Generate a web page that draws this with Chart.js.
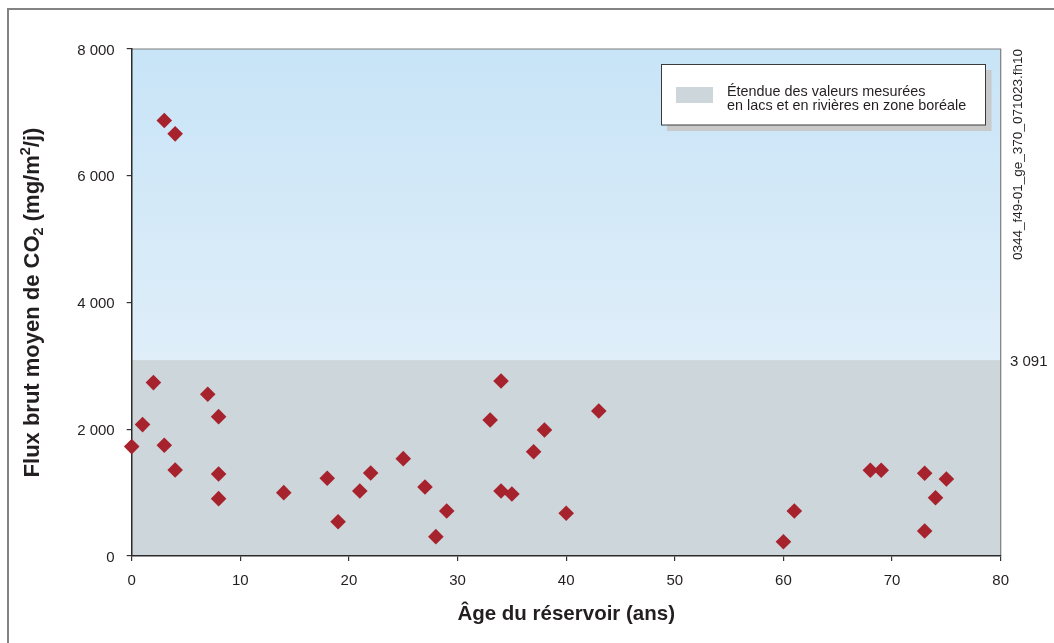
<!DOCTYPE html>
<html><head><meta charset="utf-8">
<script src="https://cdn.jsdelivr.net/npm/chart.js@4/dist/chart.umd.min.js"></script>
<style>html,body{margin:0;padding:0;background:#fff;overflow:hidden}canvas{display:block}</style>
</head><body>
<canvas id="c" width="1054" height="643"></canvas>
<script>
// ---- data ----
const ages = [0,1,2,3,4,3,4,7,8,8,8,14,18,19,21,22,25,27,28,29,33,34,34,35,37,38,40,43,60,61,68,69,73,73,74,75];
const flux = [1726,2073,2736,6872,6661,1747,1358,2552,2199,1295,905,1000,1226,541,1026,1310,1536,1089,305,710,2147,2762,1026,979,1646,1989,674,2289,226,710,1353,1353,1305,395,920,1215];
const xTicks = [0,10,20,30,40,50,60,70,80];
const yTicks = [0,2000,4000,6000,8000];
const borealMax = 3091;
const borealLabel = "3 091";
const legendLines = ["Étendue des valeurs mesurées","en lacs et en rivières en zone boréale"];
const xTitle = "Âge du réservoir (ans)";
const yTitleParts = [["Flux brut moyen de CO","n"],["2","sub"],[" (mg/m","n"],["2","sup"],["/j)","n"]];
const fileCode = "0344_f49-01_ge_370_071023.fh10";

const FONT = '"Liberation Sans", Arial, Helvetica, sans-serif';
const TXT = '#231f20';
const fmt = v => String(v).replace(/\B(?=(\d{3})+(?!\d))/g, ' ');

const deco = {
  id: 'deco',
  beforeDraw(chart) {
    const {ctx, chartArea: a, scales: {y}} = chart;
    ctx.save();
    ctx.fillStyle = '#838383';
    ctx.fillRect(7, 8, 1054 - 7, 2);
    ctx.fillRect(7, 8, 2, 643 - 8);
    const yb = y.getPixelForValue(borealMax);
    const g = ctx.createLinearGradient(0, a.top, 0, yb);
    g.addColorStop(0, '#c8e4f7');
    g.addColorStop(1, '#dfeef9');
    ctx.fillStyle = g;
    ctx.fillRect(a.left, a.top, a.right - a.left, yb - a.top);
    ctx.fillStyle = '#cdd6db';
    ctx.fillRect(a.left, yb, a.right - a.left, a.bottom - yb);
    ctx.strokeStyle = '#7d7d7d';
    ctx.lineWidth = 1.2;
    ctx.beginPath();
    ctx.moveTo(a.left, a.top); ctx.lineTo(a.right, a.top); ctx.lineTo(a.right, a.bottom);
    ctx.stroke();
    ctx.restore();
  },
  afterDraw(chart) {
    const {ctx, chartArea: a, scales: {y}} = chart;
    const yb = y.getPixelForValue(borealMax);
    ctx.save();
    ctx.fillStyle = TXT;
    // x title
    ctx.font = 'bold 20.5px ' + FONT;
    ctx.textAlign = 'center';
    ctx.textBaseline = 'alphabetic';
    ctx.fillText(xTitle, (a.left + a.right) / 2, 620);
    // y title (rotated, with sub/superscript), centred on plot
    ctx.save();
    ctx.textAlign = 'left';
    let total = 0;
    const sized = yTitleParts.map(([t, k]) => {
      const size = k === 'n' ? 22 : 14.5;
      ctx.font = 'bold ' + size + 'px ' + FONT;
      const w = ctx.measureText(t).width;
      total += w;
      return {t, k, size, w};
    });
    ctx.translate(38.8, (a.top + a.bottom) / 2 + total / 2);
    ctx.rotate(-Math.PI / 2);
    let px = 0;
    for (const p of sized) {
      const dy = p.k === 'sub' ? 4 : (p.k === 'sup' ? -8.5 : 0);
      ctx.font = 'bold ' + p.size + 'px ' + FONT;
      ctx.fillText(p.t, px, dy);
      px += p.w;
    }
    ctx.restore();
    // 3 091 label
    ctx.font = '15px ' + FONT;
    ctx.textAlign = 'left';
    ctx.textBaseline = 'middle';
    ctx.fillText(borealLabel, 1010, yb + 1.5);
    // file code vertical
    ctx.save();
    ctx.translate(1021.5, 260);
    ctx.rotate(-Math.PI / 2);
    ctx.font = '13.5px ' + FONT;
    ctx.textBaseline = 'alphabetic';
    ctx.textAlign = 'left';
    ctx.fillText(fileCode, 0, 0);
    ctx.restore();
    // legend box
    ctx.fillStyle = '#c9c9c9';
    ctx.fillRect(667, 70, 324.5, 61);
    ctx.fillStyle = '#ffffff';
    ctx.fillRect(661.5, 64.5, 324, 60.5);
    ctx.strokeStyle = '#3a3a3a';
    ctx.lineWidth = 1;
    ctx.strokeRect(661.5, 64.5, 324, 60.5);
    ctx.fillStyle = '#cdd6db';
    ctx.fillRect(676, 87, 37, 16);
    ctx.fillStyle = TXT;
    ctx.font = '14.4px ' + FONT;
    ctx.textBaseline = 'alphabetic';
    ctx.fillText(legendLines[0], 727, 96);
    ctx.fillText(legendLines[1], 727, 110.3);
    ctx.restore();
  }
};

new Chart(document.getElementById('c'), {
  type: 'scatter',
  data: {
    datasets: [{
      data: ages.map((a, i) => ({x: a, y: flux[i]})),
      pointStyle: 'rectRot',
      pointRadius: 7.8,
      pointHoverRadius: 7.8,
      backgroundColor: '#a6232e',
      borderColor: '#a6232e',
      borderWidth: 0,
      clip: false
    }]
  },
  options: {
    responsive: false,
    animation: false,
    devicePixelRatio: 1,
    events: [],
    layout: {padding: {left: 0, top: 49, right: 53.3, bottom: 0}},
    plugins: {legend: {display: false}, tooltip: {enabled: false}},
    scales: {
      x: {
        type: 'linear', min: 0, max: 80,
        afterBuildTicks: s => { s.ticks = xTicks.map(v => ({value: v})); },
        afterFit: s => { s.height = 87; },
        grid: {drawOnChartArea: false, drawTicks: true, tickLength: 5, color: '#333', lineWidth: 1.2},
        border: {display: true, color: '#2a2a2a', width: 1.5},
        ticks: {color: TXT, font: {family: FONT, size: 15}, padding: 10.5, maxRotation: 0, callback: v => fmt(v)}
      },
      y: {
        type: 'linear', min: 0, max: 8000,
        afterBuildTicks: s => { s.ticks = yTicks.map(v => ({value: v})); },
        afterFit: s => { s.width = 131.7; },
        grid: {drawOnChartArea: false, drawTicks: true, tickLength: 5, color: '#333', lineWidth: 1.2},
        border: {display: true, color: '#2a2a2a', width: 1.5},
        ticks: {color: TXT, font: {family: FONT, size: 15}, padding: 12, labelOffset: 1.5, callback: v => fmt(v)}
      }
    }
  },
  plugins: [deco]
});
</script>
</body></html>
